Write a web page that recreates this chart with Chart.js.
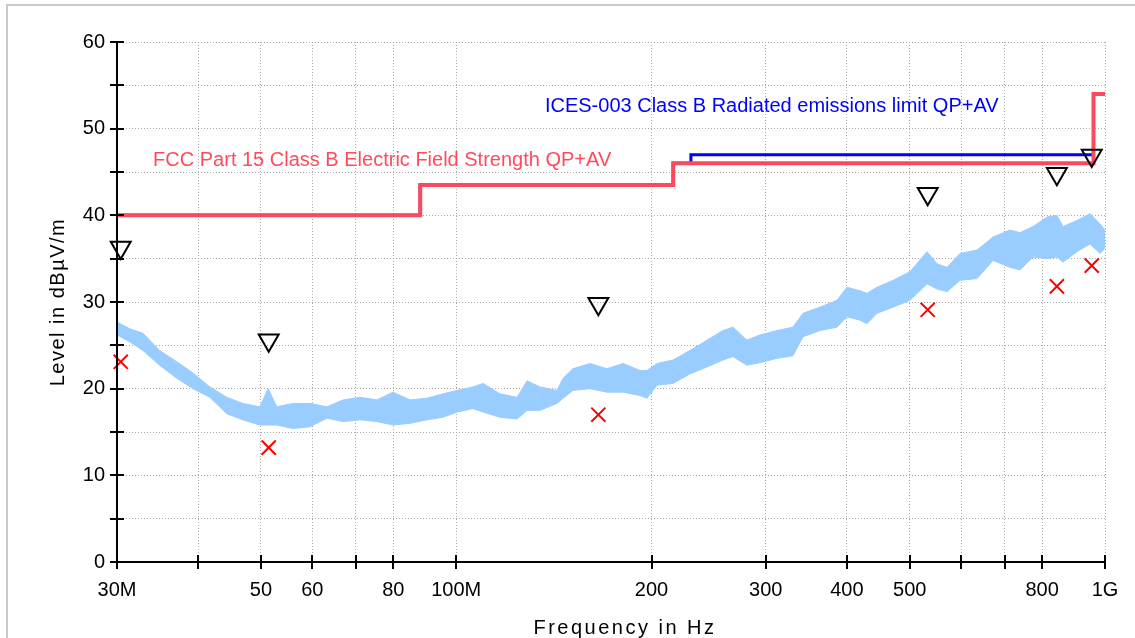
<!DOCTYPE html>
<html>
<head>
<meta charset="utf-8">
<script src="https://cdn.jsdelivr.net/npm/chart.js@4.4.1/dist/chart.umd.min.js"></script>
<style>
    html, body { margin: 0; padding: 0; background: #fff; overflow: hidden; }
    #moldura { position: absolute; left: 6px; top: 4px; width: 1300px; height: 800px; border-left: 2px solid #c8c8c8; border-top: 2px solid #c8c8c8; }
    #area { position: absolute; left: 0; top: 0; width: 1135px; height: 638px; }
</style>
</head>
<body>
<div id="moldura"></div>
<div id="area"><canvas id="GraficoEmissao" width="1135" height="638"></canvas></div>
<script>
// espectro medido (MHz / dBuV/m), envelope superior e inferior
var specFreq = [30.0, 31.4, 32.9, 34.9, 37.1, 39.3, 41.7, 44.3, 46.9, 49.8, 51.3, 52.9, 56.0, 59.5, 63.2, 66.9, 71.1, 75.5, 79.9, 84.9,
    90.1, 95.4, 100.3, 106.1, 110.0, 116.8, 124.1, 128.6, 134.6, 143.0, 146.1, 151.3, 160.8, 170.7, 180.8, 192.0, 196.8, 203.9, 215.8, 229.2,
    243.5, 257.7, 267.0, 280.6, 293.9, 312.2, 330.4, 342.4, 363.6, 386.3, 400.2, 419.1, 429.6, 445.2, 471.3, 500.6, 531.7, 550.9, 570.8, 597.8,
    634.9, 672.0, 713.7, 739.5, 774.4, 813.9, 843.2, 861.4, 905.2, 948.2, 982.5, 1000];
var specTop = [27.7, 26.9, 26.4, 24.4, 23.1, 21.8, 20.2, 19.0, 18.3, 17.9, 20.0, 17.9, 18.3, 18.3, 17.9, 18.7, 19.0, 18.7, 19.6, 18.7,
    18.9, 19.4, 19.8, 20.2, 20.6, 19.4, 19.0, 20.9, 20.2, 19.8, 21.2, 22.3, 22.9, 22.3, 22.9, 22.1, 22.1, 22.9, 23.3, 24.4,
    25.6, 26.7, 27.1, 25.6, 26.2, 26.7, 27.1, 28.7, 29.4, 30.2, 31.7, 31.3, 31.0, 31.7, 32.5, 33.5, 35.8, 34.4, 34.0, 35.6,
    36.0, 37.5, 38.3, 38.0, 38.7, 39.8, 40.0, 38.7, 39.4, 40.2, 39.0, 38.3];
var specBottom = [26.2, 25.4, 24.4, 22.7, 21.2, 20.0, 19.0, 17.1, 16.4, 15.8, 15.8, 15.8, 15.4, 15.6, 16.6, 16.2, 16.4, 16.2, 15.8, 16.0,
    16.4, 16.7, 17.3, 17.7, 17.3, 16.7, 16.5, 17.5, 17.5, 18.3, 18.9, 19.8, 20.0, 19.6, 19.6, 19.2, 18.9, 20.4, 20.6, 21.7,
    22.5, 23.3, 23.7, 22.7, 23.0, 23.5, 23.8, 26.0, 26.7, 27.1, 28.3, 27.9, 27.5, 28.7, 29.4, 30.2, 32.1, 31.5, 31.2, 32.5,
    32.7, 34.8, 34.0, 33.7, 35.2, 35.0, 35.2, 34.6, 35.8, 36.7, 35.6, 36.2];

// limites
var fccFreq = [30, 88, 216, 960, 1000];
var fccLevel = [40, 43.5, 46, 54, 54];
var icesFreq = [30, 88, 216, 230, 960, 1000];
var icesLevel = [40, 43.5, 46, 47, 54, 54];

// medicoes finais
var markFreq = [30.4, 51.4, 165.6, 533, 843, 954];
var qpLevel = [36.3, 25.6, 29.8, 42.5, 44.8, 46.9];
var avLevel = [23.1, 13.2, 17.0, 29.1, 31.8, 34.2];

// eixo x
var xTicks = [30, 40, 50, 60, 70, 80, 100, 200, 300, 400, 500, 600, 700, 800, 1000];
var xTickLabels = ['30M', '', '50', '60', '', '80', '100M', '200', '300', '400', '500', '', '', '800', '1G'];

var fccLabel = 'FCC Part 15 Class B Electric Field Strength QP+AV';
var icesLabel = 'ICES-003 Class B Radiated emissions limit QP+AV';

function Pontos(xs, ys) {
    return xs.map(function (x, i) { return { x: x, y: ys[i] }; });
}

var eixos = {
    id: 'eixos',
    afterDatasetsDraw: function (chart) {
        var ctx = chart.ctx;
        var sx = chart.scales.x;
        var sy = chart.scales.y;
        var a = chart.chartArea;
        ctx.save();
        ctx.strokeStyle = '#000';
        ctx.lineWidth = 2;
        ctx.beginPath();
        ctx.moveTo(a.left, a.top);
        ctx.lineTo(a.left, a.bottom);
        ctx.lineTo(a.right, a.bottom);
        sy.ticks.forEach(function (t) {
            var y = Math.round(sy.getPixelForValue(t.value));
            ctx.moveTo(a.left - 7, y);
            ctx.lineTo(a.left + 7, y);
        });
        sx.ticks.forEach(function (t) {
            var x = Math.round(sx.getPixelForValue(t.value));
            ctx.moveTo(x, a.bottom - 7);
            ctx.lineTo(x, a.bottom + 7);
        });
        ctx.stroke();

        ctx.font = '20px "Liberation Sans"';
        ctx.textBaseline = 'alphabetic';
        ctx.textAlign = 'left';
        ctx.fillStyle = '#ff4b5c';
        ctx.fillText(fccLabel, sx.getPixelForValue(34.1), sy.getPixelForValue(45.7));
        ctx.fillStyle = '#0000ff';
        ctx.fillText(icesLabel, sx.getPixelForValue(137), sy.getPixelForValue(51.9));

        ctx.fillStyle = '#000';
        ctx.letterSpacing = '2.5px';
        ctx.textAlign = 'center';
        ctx.textBaseline = 'middle';
        ctx.fillText('Frequency in Hz', (a.left + a.right) / 2 + 14, 628);
        ctx.letterSpacing = '1.5px';
        ctx.translate(58, (a.top + a.bottom) / 2);
        ctx.rotate(-Math.PI / 2);
        ctx.fillText('Level in dBµV/m', 0, 0);
        ctx.restore();
    }
};

Chart.defaults.font.family = 'Liberation Sans';

var ctx = document.getElementById('GraficoEmissao').getContext('2d');
var grafico = new Chart(ctx, {
    type: 'line',
    data: {
        datasets: [
            {
                label: 'QP',
                data: Pontos(markFreq, qpLevel),
                showLine: false,
                clip: false,
                pointStyle: 'triangle',
                pointRotation: 180,
                pointRadius: 11.5,
                pointBorderWidth: 2,
                pointBorderColor: '#000',
                pointBackgroundColor: 'rgba(0,0,0,0)'
            },
            {
                label: 'AV',
                data: Pontos(markFreq, avLevel),
                showLine: false,
                clip: false,
                pointStyle: 'crossRot',
                pointRadius: 10,
                pointBorderWidth: 2,
                pointBorderColor: '#ff0000'
            },
            {
                label: fccLabel,
                data: Pontos(fccFreq, fccLevel),
                stepped: 'before',
                borderColor: '#fa4b5e',
                borderWidth: 4,
                pointRadius: 0,
                fill: false
            },
            {
                label: icesLabel,
                data: Pontos(icesFreq, icesLevel),
                stepped: 'before',
                borderColor: '#0000ff',
                borderWidth: 3,
                pointRadius: 0,
                fill: false
            },
            {
                label: 'Spectrum max',
                data: Pontos(specFreq, specTop),
                borderColor: '#99ccff',
                backgroundColor: '#99ccff',
                borderWidth: 1,
                pointRadius: 0,
                fill: '+1'
            },
            {
                label: 'Spectrum min',
                data: Pontos(specFreq, specBottom),
                borderColor: '#99ccff',
                borderWidth: 1,
                pointRadius: 0,
                fill: false
            }
        ]
    },
    options: {
        responsive: false,
        animation: false,
        layout: { padding: { left: 0, right: 30, top: 42, bottom: 0 } },
        plugins: {
            legend: { display: false },
            tooltip: { enabled: false }
        },
        scales: {
            x: {
                type: 'logarithmic',
                min: 30,
                max: 1000,
                afterBuildTicks: function (s) {
                    s.ticks = xTicks.map(function (v) { return { value: v }; });
                },
                afterFit: function (s) { s.height = 76; },
                ticks: {
                    autoSkip: false,
                    maxRotation: 0,
                    padding: 16,
                    color: '#000',
                    font: { size: 20 },
                    callback: function (v, i) { return xTickLabels[i]; }
                },
                grid: { color: '#a8a8a8', lineWidth: 1, drawTicks: false },
                border: { display: false, dash: [1, 2] }
            },
            y: {
                min: 0,
                max: 60,
                afterFit: function (s) { s.width = 117; },
                ticks: {
                    stepSize: 5,
                    padding: 12,
                    color: '#000',
                    font: { size: 20 },
                    callback: function (v) { return v % 10 === 0 ? v : ''; }
                },
                grid: { color: '#a8a8a8', lineWidth: 1, drawTicks: false },
                border: { display: false, dash: [1, 2] }
            }
        }
    },
    plugins: [eixos]
});
</script>
</body>
</html>
